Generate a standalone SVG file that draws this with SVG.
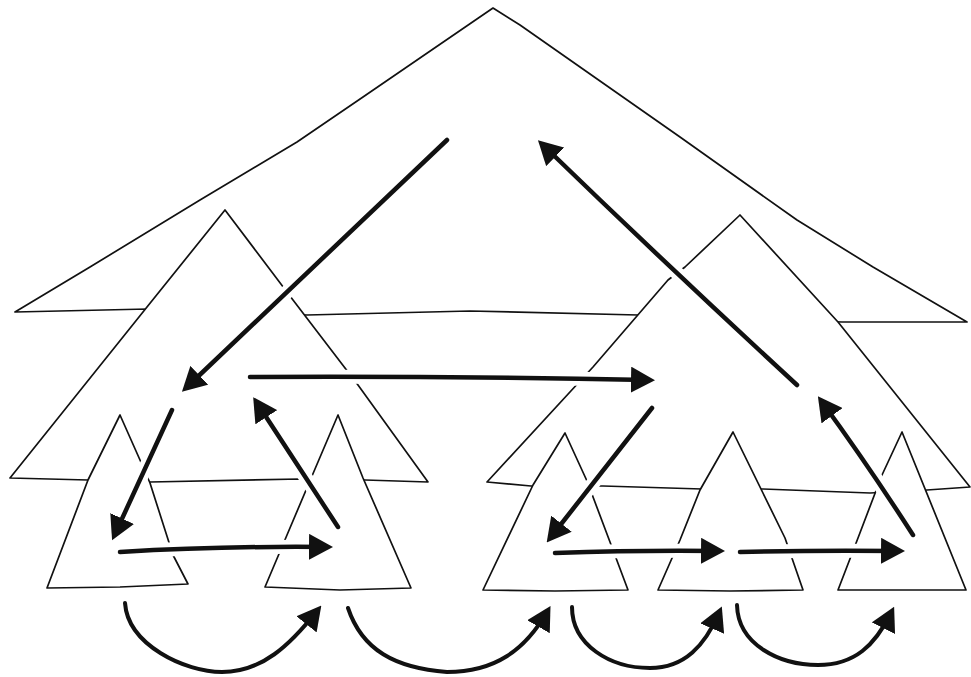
<svg xmlns="http://www.w3.org/2000/svg" width="971" height="677" viewBox="0 0 971 677">
<style>
.tri{fill:#fff;stroke:#111;stroke-width:1.7;stroke-linejoin:round}
.halo{fill:none;stroke:#fff;stroke-width:14;stroke-linecap:round}
.arr{fill:none;stroke:#111;stroke-width:4.5;stroke-linecap:round;marker-end:url(#head)}
.arr2{fill:none;stroke:#111;stroke-width:4;stroke-linecap:round;marker-end:url(#head)}
</style>
<defs>
<marker id="head" viewBox="0 0 24 26" refX="17" refY="13" markerWidth="24" markerHeight="26" markerUnits="userSpaceOnUse" orient="auto">
<path d="M0,0 L24,13 L0,26 Z" fill="#111"/>
</marker>
</defs>
<rect width="971" height="677" fill="#fff"/>
<g id="root">
<path class="tri" d="M493,8 L363,97 L297,142 L200,200 L90,267 L15,312 L148,309 L307,315 L470,311 L638,315 L842,322 L967,322 L873,267 L797,220 L680,137 L520,25 Z"/>
</g>
<g id="left-subtree">
<path class="tri" d="M225,210 L147,307 L10,478 L88,480 L150,482 L300,479 L365,480 L428,482 L358,385 L293,300 Z"/>
</g>
<g id="right-subtree">
<path class="tri" d="M740,215 L685,267 L668,280 L593,367 L487,482 L531,486 L603,486 L702,489 L763,489 L870,493 L927,490 L970,487 L838,322 Z"/>
</g>
<g id="leaf-1">
<path class="tri" d="M120,415 L88,480 L47,588 L120,587 L188,584 L173,555 L150,483 L140,460 Z"/>
</g>
<g id="leaf-2">
<path class="tri" d="M338,415 L312,476 L287,535 L265,587 L340,590 L411,588 L363,478 Z"/>
</g>
<g id="leaf-3">
<path class="tri" d="M565,433 L533,485 L483,590 L555,591 L628,590 L610,542 L587,481 Z"/>
</g>
<g id="leaf-4">
<path class="tri" d="M733,432 L700,490 L680,540 L658,590 L730,591 L803,590 L785,538 Z"/>
</g>
<g id="leaf-5">
<path class="tri" d="M902,432 L882,475 L858,538 L838,590 L900,590 L966,590 Z"/>
</g>
<g id="connectors">
<g id="halos">
<path class="halo" d="M447,140 L187,387"/>
<path class="halo" d="M172,410 L115,534"/>
<path class="halo" d="M120,552 Q220,546 326,547"/>
<path class="halo" d="M338,527 L257,403"/>
<path class="halo" d="M250,377 Q450,376 648,380"/>
<path class="halo" d="M652,408 L551,537"/>
<path class="halo" d="M555,553 Q640,550 718,551"/>
<path class="halo" d="M740,552 Q820,550 898,551"/>
<path class="halo" d="M913,535 Q868,465 822,402"/>
<path class="halo" d="M797,385 Q670,268 543,145"/>
</g>
<path class="arr" d="M447,140 L187,387"/>
<path class="arr" d="M172,410 L115,534"/>
<path class="arr" d="M120,552 Q220,546 326,547"/>
<path class="arr" d="M338,527 L257,403"/>
<path class="arr" d="M250,377 Q450,376 648,380"/>
<path class="arr" d="M652,408 L551,537"/>
<path class="arr" d="M555,553 Q640,550 718,551"/>
<path class="arr" d="M740,552 Q820,550 898,551"/>
<path class="arr" d="M913,535 Q868,465 822,402"/>
<path class="arr" d="M797,385 Q670,268 543,145"/>
<path class="arr2" d="M125,603 C128,645 185,672 222,672 C262,672 290,645 317,611"/>
<path class="arr2" d="M348,608 C362,650 395,668 447,672 C495,672 525,650 547,612"/>
<path class="arr2" d="M572,607 C572,645 610,668 650,668 C685,668 705,645 719,613"/>
<path class="arr2" d="M737,605 C738,645 780,665 818,665 C855,665 875,645 891,613"/>
</g>
</svg>
